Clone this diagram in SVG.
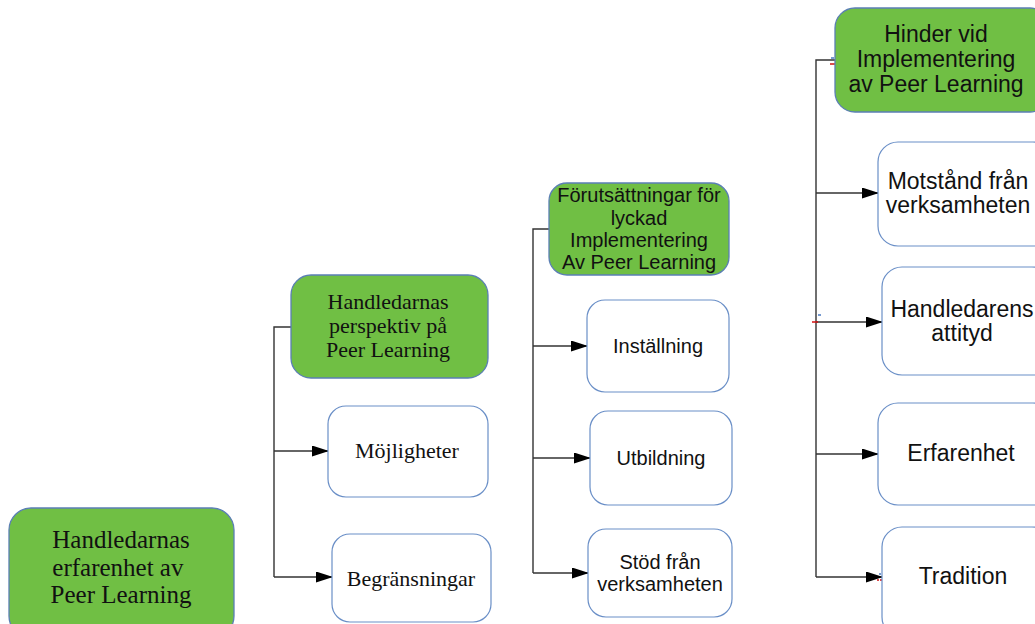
<svg xmlns="http://www.w3.org/2000/svg" width="1035" height="624" viewBox="0 0 1035 624">
<defs>
<marker id="arr" markerWidth="17" markerHeight="11" refX="16" refY="5.5" orient="auto" markerUnits="userSpaceOnUse">
<path d="M0,0 L17,5.5 L0,11 Z" fill="#000"/>
</marker>
<style>
.g{fill:#70bf44;stroke:#5b7fb5;stroke-width:1.3}
.w{fill:#fff;stroke:#6a8fc7;stroke-width:1.2}
.ts{font-family:"Liberation Serif","Times New Roman",serif;fill:#111;text-anchor:middle}
.ta{font-family:"Liberation Sans",Arial,sans-serif;fill:#111;text-anchor:middle}
.c{fill:none;stroke:#333;stroke-width:1.4}
.ca{fill:none;stroke:#333;stroke-width:1.4;marker-end:url(#arr)}
</style>
</defs>
<rect width="1035" height="624" fill="#fff"/>
<g id="connectors">
<path class="c" d="M291,327 H274 V577"/>
<path class="ca" d="M274,451 H328"/>
<path class="ca" d="M274,577 H332"/>
<path class="c" d="M549,229 H533 V573"/>
<path class="ca" d="M533,346 H587"/>
<path class="ca" d="M533,458 H590"/>
<path class="ca" d="M533,573 H588"/>
<path class="c" d="M835,60 H816 V577"/>
<path class="ca" d="M816,193 H878"/>
<path class="ca" d="M816,322 H882"/>
<path class="ca" d="M816,454 H878"/>
<path class="ca" d="M816,577 H882"/>
<g stroke-width="1.5">
<line x1="830" y1="64" x2="836" y2="64" stroke="#d01010"/>
<line x1="831" y1="58" x2="834" y2="58" stroke="#4a78c0"/>
<line x1="812" y1="322" x2="818" y2="322" stroke="#d01010"/>
<line x1="818" y1="315" x2="821" y2="315" stroke="#4a78c0"/>
<line x1="877" y1="580" x2="886" y2="580" stroke="#d01010" stroke-dasharray="2,1"/>
<line x1="879" y1="574" x2="881" y2="574" stroke="#4a78c0"/>
</g>
</g>
<g id="n1">
<rect class="g" x="9" y="508" width="225" height="130" rx="22"/>
<text class="ts" font-size="25"><tspan x="121" y="548">Handledarnas</tspan><tspan x="121" y="576">erfarenhet av </tspan><tspan x="121" y="603">Peer Learning</tspan></text>
</g>
<g id="n2">
<rect class="g" x="291" y="275" width="197" height="103" rx="20"/>
<text class="ts" font-size="22"><tspan x="388" y="309">Handledarnas</tspan><tspan x="388" y="333">perspektiv på</tspan><tspan x="388" y="357">Peer Learning</tspan></text>
</g>
<g id="n3">
<rect class="w" x="328" y="406" width="160" height="91" rx="18"/>
<text class="ts" font-size="22" x="407" y="458">Möjligheter</text>
</g>
<g id="n4">
<rect class="w" x="332" y="534" width="159" height="88" rx="18"/>
<text class="ts" font-size="22" x="411" y="586">Begränsningar</text>
</g>
<g id="n5">
<rect class="g" x="549" y="183" width="180" height="92" rx="18"/>
<text class="ta" font-size="20"><tspan x="639" y="202">Förutsättningar för</tspan><tspan x="639" y="225">lyckad</tspan><tspan x="639" y="247">Implementering</tspan><tspan x="639" y="269">Av Peer Learning</tspan></text>
</g>
<g id="n6">
<rect class="w" x="587" y="300" width="142" height="92" rx="18"/>
<text class="ta" font-size="20" x="658" y="353">Inställning</text>
</g>
<g id="n7">
<rect class="w" x="590" y="411" width="142" height="94" rx="18"/>
<text class="ta" font-size="20" x="661" y="465">Utbildning</text>
</g>
<g id="n8">
<rect class="w" x="588" y="529" width="144" height="88" rx="18"/>
<text class="ta" font-size="20"><tspan x="660" y="569">Stöd från</tspan><tspan x="660" y="591">verksamheten</tspan></text>
</g>
<g id="n9">
<rect class="g" x="835" y="8" width="215" height="104" rx="20"/>
<text class="ta" font-size="23"><tspan x="936" y="42">Hinder vid</tspan><tspan x="936" y="67">Implementering</tspan><tspan x="936" y="92">av Peer Learning</tspan></text>
</g>
<g id="n10">
<rect class="w" x="878" y="142" width="175" height="104" rx="20"/>
<text class="ta" font-size="23"><tspan x="958" y="189">Motstånd från</tspan><tspan x="958" y="213">verksamheten</tspan></text>
</g>
<g id="n11">
<rect class="w" x="882" y="267" width="170" height="108" rx="20"/>
<text class="ta" font-size="23"><tspan x="962" y="317">Handledarens</tspan><tspan x="962" y="341">attityd</tspan></text>
</g>
<g id="n12">
<rect class="w" x="878" y="403" width="175" height="102" rx="20"/>
<text class="ta" font-size="23" x="961" y="461">Erfarenhet</text>
</g>
<g id="n13">
<rect class="w" x="882" y="527" width="170" height="110" rx="20"/>
<text class="ta" font-size="23" x="963" y="584">Tradition</text>
</g>
</svg>
